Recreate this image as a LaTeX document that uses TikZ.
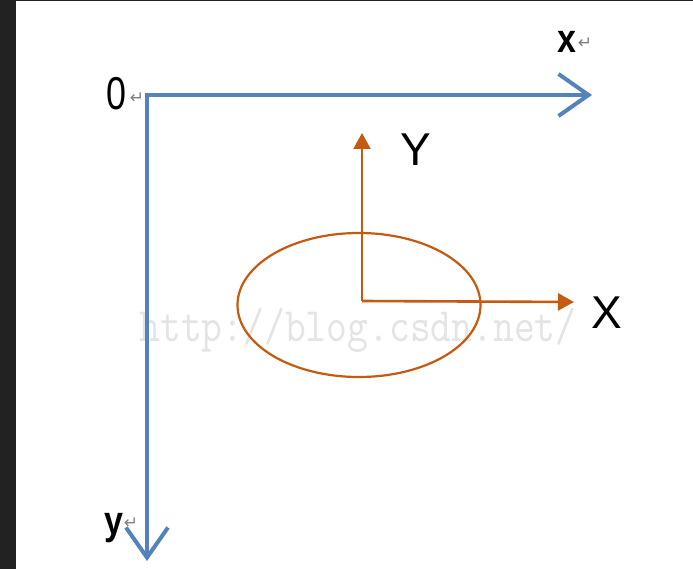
\documentclass[tikz,border=0pt]{standalone}
\usepackage{fontspec}
\setmainfont{Liberation Sans}
\newfontfamily\symfont{DejaVu Sans}
\usetikzlibrary{arrows.meta,shapes.geometric}
\definecolor{axisblue}{RGB}{84,130,190}
\definecolor{localorange}{RGB}{197,90,17}
\definecolor{darkframe}{RGB}{34,34,34}
\definecolor{wmgray}{RGB}{228,228,228}
\tikzset{
  bigaxis/.style={draw=axisblue, line width=4pt,
    -{Straight Barb[length=30pt,width=42pt,line width=4pt]}},
  localaxis/.style={draw=localorange, line width=2.6pt,
    -{Triangle[length=16pt,width=17pt]}},
  biglabel/.style={inner sep=0pt, font=\fontsize{40}{40}\selectfont},
  locallabel/.style={inner sep=0pt, font=\fontsize{46}{46}\selectfont},
  retmark/.style={inner sep=0pt, text=gray, font=\symfont\fontsize{17}{17}\selectfont},
}
\begin{document}
\begin{tikzpicture}[x=1pt,y=-1pt]
\useasboundingbox (0,0) rectangle (693,569);
\fill[white] (0,0) rectangle (693,569);
\fill[darkframe] (0,0) rectangle (16,569);
\fill[darkframe] (0,0) rectangle (693,1.5);
% watermark
\node[inner sep=0pt, text=wmgray, font=\ttfamily\fontsize{40}{40}\selectfont, xscale=1.01, yscale=1.2] (wm) at (358,330) {http://blog.csdn.net/};
% big axes
\coordinate (O) at (147,95);
\coordinate (xend) at (592,95);
\coordinate (yend) at (147,561);
\draw[bigaxis] ([xshift=-2pt]O) -- (xend);
\draw[bigaxis] ([yshift=-2pt]O) -- (yend);
\node[biglabel, font=\fontsize{46}{46}\selectfont, xscale=0.78] (zero) at (116,94) {0};
\node[retmark] (r0) at (137,98) {↵};
\node[biglabel, font=\bfseries\fontsize{40}{40}\selectfont, xscale=0.85] (xl) at (567,42) {x};
\node[retmark] (rx) at (585,43) {↵};
\node[biglabel, font=\bfseries\fontsize{40}{40}\selectfont, xscale=0.85] (yl) at (114,528) {y};
\node[retmark] (ry) at (131,523) {↵};
% local frame
\node[draw=localorange, line width=2.2pt, ellipse, minimum width=243pt, minimum height=144pt, inner sep=0pt] (ell) at (359,305) {};
\coordinate (o) at (362,301);
\coordinate (Yend) at (362,133);
\coordinate (Xend) at (574,302);
\draw[localaxis] (o) -- (Yend);
\draw[localaxis] (o) -- (Xend);
\node[locallabel] (Yl) at (416,150) {Y};
\node[locallabel] (Xl) at (607,313) {X};
\end{tikzpicture}
\end{document}
